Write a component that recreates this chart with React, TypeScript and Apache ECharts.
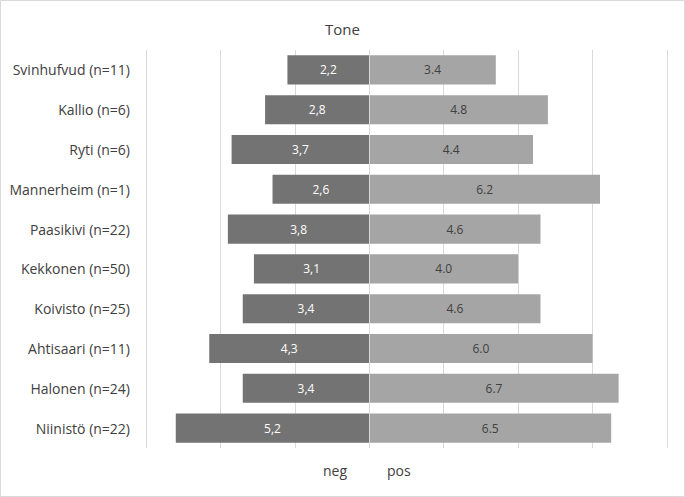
import React, { useEffect, useRef } from "react";
import * as echarts from "echarts";

const categories = [
  "Svinhufvud (n=11)",
  "Kallio (n=6)",
  "Ryti (n=6)",
  "Mannerheim (n=1)",
  "Paasikivi (n=22)",
  "Kekkonen (n=50)",
  "Koivisto (n=25)",
  "Ahtisaari (n=11)",
  "Halonen (n=24)",
  "Niinistö (n=22)",
];
const negValues = [2.2, 2.8, 3.7, 2.6, 3.8, 3.1, 3.4, 4.3, 3.4, 5.2];
const posValues = [3.4, 4.8, 4.4, 6.2, 4.6, 4.0, 4.6, 6.0, 6.7, 6.5];
const seriesNames = ["neg", "pos"];
const titleText = "Tone";

const FONT = "'Open Sans', sans-serif";

export default function App() {
  const ref = useRef<HTMLDivElement>(null);
  useEffect(() => {
    if (!ref.current) return;
    const chart = echarts.init(ref.current, undefined, { renderer: "svg" });
    chart.setOption({
      animation: false,
      backgroundColor: "#ffffff",
      title: {
        text: titleText,
        left: "center",
        top: 16,
        textStyle: { fontFamily: FONT, fontSize: 15, fontWeight: "normal", color: "#404040" },
      },
      legend: {
        bottom: 15,
        left: 303,
        itemGap: 25,
        itemWidth: 10,
        itemHeight: 10,
        itemStyle: { opacity: 0 },
        textStyle: { fontFamily: FONT, fontSize: 14, color: "#404040" },
        data: seriesNames,
      },
      graphic: [
        {
          type: "rect",
          shape: { x: 0.5, y: 0.5, width: 684, height: 496 },
          style: { fill: "none", stroke: "#d9d9d9", lineWidth: 1 },
          silent: true,
        },
      ],
      grid: { left: 146, right: 18, top: 50, bottom: 49, containLabel: false },
      xAxis: {
        type: "value",
        min: -6,
        max: 8,
        interval: 2,
        axisLabel: { show: false },
        axisLine: { show: false },
        axisTick: { show: false },
        splitLine: { lineStyle: { color: "#d9d9d9", width: 1 } },
      },
      yAxis: {
        type: "category",
        data: categories,
        inverse: true,
        axisLine: { show: false, onZero: false },
        axisTick: { show: false },
        axisLabel: {
          margin: 16,
          fontFamily: FONT,
          fontSize: 14,
          color: "#404040",
        },
      },
      series: [
        {
          name: seriesNames[0],
          type: "bar",
          stack: "tone",
          barCategoryGap: "27%",
          data: negValues.map((v) => -v),
          itemStyle: { color: "#737373" },
          label: {
            show: true,
            position: "inside",
            fontFamily: FONT,
            fontSize: 12,
            color: "#ffffff",
            formatter: (p: any) => Math.abs(p.value).toFixed(1).replace(".", ","),
          },
          markLine: {
            silent: true,
            symbol: "none",
            label: { show: false },
            lineStyle: { color: "#d9d9d9", type: "solid", width: 1 },
            data: [{ xAxis: 0 }],
          },
        },
        {
          name: seriesNames[1],
          type: "bar",
          stack: "tone",
          barCategoryGap: "27%",
          data: posValues,
          itemStyle: { color: "#a5a5a5" },
          label: {
            show: true,
            position: "inside",
            fontFamily: FONT,
            fontSize: 12,
            color: "#404040",
            formatter: (p: any) => Number(p.value).toFixed(1),
          },
        },
      ],
    });
    return () => chart.dispose();
  }, []);
  return (
    <div
      ref={ref}
      style={{ position: "fixed", left: 0, top: 0, width: 685, height: 497 }}
    />
  );
}
